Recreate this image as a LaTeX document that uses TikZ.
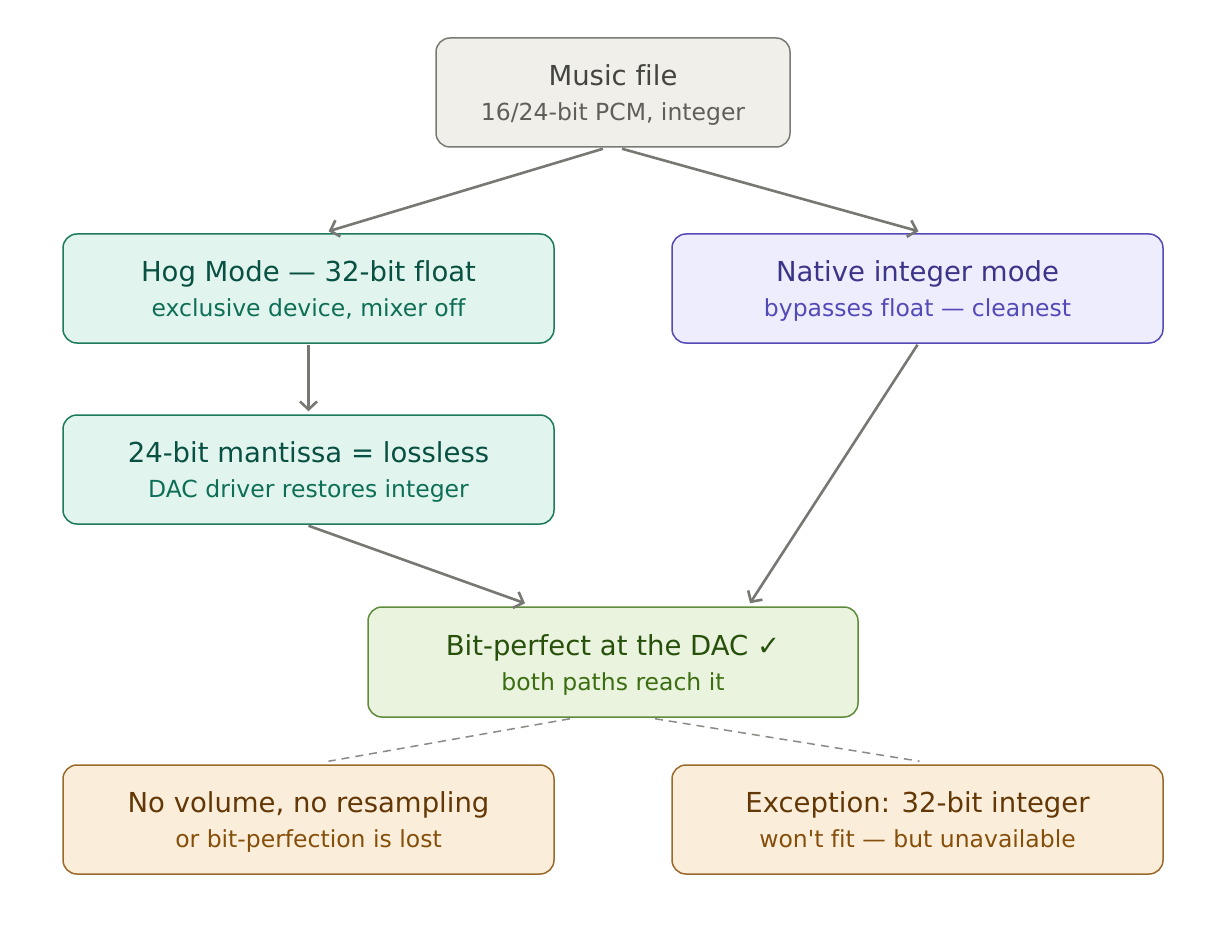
\documentclass[tikz,border=0pt]{standalone}
\usepackage{fontspec}
\setmainfont{DejaVu Sans}
\newfontfamily\djfont{DejaVu Sans}[Ligatures=NoCommon]
\usetikzlibrary{arrows.meta,calc}
\definecolor{arrowgray}{HTML}{777773}
\definecolor{dashgray}{HTML}{8A8A86}
\definecolor{gfill}{HTML}{F0EFEA}\definecolor{gdraw}{HTML}{7A7A75}\definecolor{gt}{HTML}{444441}\definecolor{gs}{HTML}{5F5E5A}
\definecolor{tfill}{HTML}{E1F5EE}\definecolor{tdraw}{HTML}{1D7A5C}\definecolor{tt}{HTML}{085041}\definecolor{ts}{HTML}{0F6E56}
\definecolor{pfill}{HTML}{EEEDFE}\definecolor{pdraw}{HTML}{534AB7}\definecolor{pt}{HTML}{3C3489}\definecolor{ps}{HTML}{534AB7}
\definecolor{lfill}{HTML}{EAF3DE}\definecolor{ldraw}{HTML}{5E8C3A}\definecolor{lt}{HTML}{27500A}\definecolor{ls}{HTML}{3B6D11}
\definecolor{ofill}{HTML}{FAEEDA}\definecolor{odraw}{HTML}{9A6A2A}\definecolor{ot}{HTML}{633806}\definecolor{os}{HTML}{854F0B}
\tikzset{
 box/.style={draw, rounded corners=14pt, line width=1.5pt, minimum width=491pt, minimum height=109pt, inner sep=0pt},
 ttl/.style={anchor=base, font=\djfont\fontsize{27.5}{30}\selectfont, inner sep=0pt},
 sub/.style={anchor=base, font=\djfont\fontsize{23.5}{26}\selectfont, inner sep=0pt},
 flow/.style={draw=arrowgray, line width=2.6pt, -{Straight Barb[length=8pt,width=17pt]}},
 dashlink/.style={draw=dashgray, line width=1.5pt, dash pattern=on 8pt off 6pt},
}
\begin{document}
\begin{tikzpicture}[x=1pt,y=-1pt]
\useasboundingbox (0,0) rectangle (1212,925);
\fill[white] (0,0) rectangle (1212,925);
% boxes
\node[box, fill=gfill, draw=gdraw, minimum width=354pt] (music) at (613,92.5) {};
\node[box, fill=tfill, draw=tdraw] (hog) at (308.5,288.5) {};
\node[box, fill=pfill, draw=pdraw] (nat) at (917.5,288.5) {};
\node[box, fill=tfill, draw=tdraw] (mant) at (308.5,469.5) {};
\node[box, fill=lfill, draw=ldraw, minimum width=490pt, minimum height=110pt] (bit) at (613,662) {};
\node[box, fill=ofill, draw=odraw] (nov) at (308.5,819.5) {};
\node[box, fill=ofill, draw=odraw] (exc) at (917.5,819.5) {};
% texts
\node[ttl, text=gt] (music-t) at ($(music.center)+(0,-7)$) {Music file};
\node[sub, text=gs] (music-s) at ($(music.center)+(0,28)$) {16/24-bit PCM, integer};
\node[ttl, text=tt] (hog-t) at ($(hog.center)+(0,-7)$) {Hog Mode — 32-bit float};
\node[sub, text=ts] (hog-s) at ($(hog.center)+(0,28)$) {exclusive device, mixer off};
\node[ttl, text=pt] (nat-t) at ($(nat.center)+(0,-7)$) {Native integer mode};
\node[sub, text=ps] (nat-s) at ($(nat.center)+(0,28)$) {bypasses float — cleanest};
\node[ttl, text=tt] (mant-t) at ($(mant.center)+(0,-7)$) {24-bit mantissa = lossless};
\node[sub, text=ts] (mant-s) at ($(mant.center)+(0,28)$) {DAC driver restores integer};
\node[ttl, text=lt] (bit-t) at ($(bit.center)+(0,-7)$) {Bit-perfect at the DAC ✓};
\node[sub, text=ls] (bit-s) at ($(bit.center)+(0,28)$) {both paths reach it};
\node[ttl, text=ot] (nov-t) at ($(nov.center)+(0,-7)$) {No volume, no resampling};
\node[sub, text=os] (nov-s) at ($(nov.center)+(0,28)$) {or bit-perfection is lost};
\node[ttl, text=ot] (exc-t) at ($(exc.center)+(0,-7)$) {Exception: 32-bit integer};
\node[sub, text=os] (exc-s) at ($(exc.center)+(0,28)$) {won't fit — but unavailable};
% arrows
\draw[flow] ($(music.south)+(-10,1)$) -- ($(hog.north)+(20,-2)$);
\draw[flow] ($(music.south)+(9,1)$) -- ($(nat.north)+(1,-2)$);
\draw[flow] ($(hog.south)+(0,1)$) -- ($(mant.north)+(0,-3)$);
\draw[flow] ($(mant.south)+(0,1)$) -- ($(bit.north)+(-88,-3)$);
\draw[flow] ($(nat.south)+(0,1)$) -- ($(bit.north)+(137,-3)$);
% dashed
\draw[dashlink] ($(bit.south)+(-43,1)$) -- ($(nov.north)+(20,-3)$);
\draw[dashlink] ($(bit.south)+(42,1)$) -- ($(exc.north)+(2,-3)$);
\end{tikzpicture}
\end{document}
